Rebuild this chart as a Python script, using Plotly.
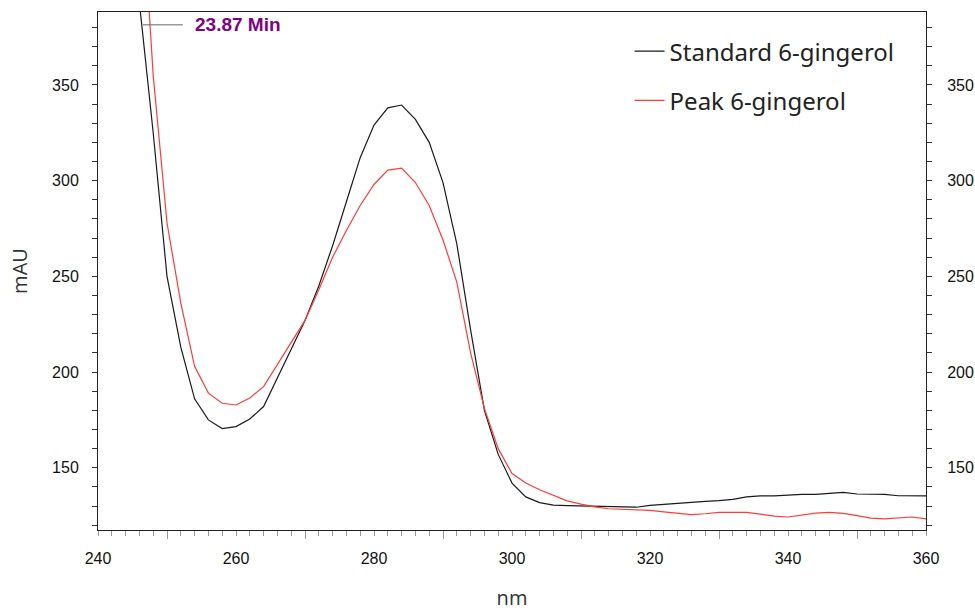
import plotly.graph_objects as go

# Wavelength (nm), sampled every 2 nm
wavelength = list(range(244, 361, 2))

standard_6_gingerol = [
    480, 393, 325, 250, 213, 186, 175, 170.5, 171.5, 175.5,
    182, 197, 212, 227, 245, 266, 289, 312, 329, 338,
    339.5, 332, 320, 299, 267, 222, 180, 157, 142, 134.8,
    131.8, 130.5, 130.2, 130, 129.8, 129.5, 129.4, 129.4, 130.4, 130.9,
    131.7, 132.1, 132.5, 132.8, 133.5, 134.8, 135.3, 135.3, 135.7, 136.1,
    136.1, 136.7, 137.2, 136.3, 136.1, 136.1, 135.4, 135.3, 135.3,
]

peak_6_gingerol = [
    560, 470, 355, 278, 236, 203, 189, 183.7, 182.8, 186.5,
    192.4, 204, 215, 227, 243, 260, 274, 287, 298, 305.5,
    306.5, 299, 287, 269, 247, 210, 181, 160, 147, 142,
    138.5, 135.7, 132.7, 131, 129.6, 128.6, 128.3, 128, 127.8, 127,
    126.2, 125.5, 126, 126.7, 126.7, 126.7, 125.8, 124.8, 124.3, 125.3,
    126.3, 126.7, 126.2, 125, 123.7, 123.3, 123.8, 124.3, 123.3,
]

series_names = ["Standard 6-gingerol", "Peak 6-gingerol"]
x_tick_vals = [240, 260, 280, 300, 320, 340, 360]
x_mid_ticks = [250, 270, 290, 310, 330, 350]
y_tick_vals = [150, 200, 250, 300, 350]
annotation_text = "23.87 Min"
annotation_line_x = [246.5, 252.3]
annotation_y = 381.4
annotation_text_x = 254.2

x_range = [240, 360]
y_range = [117.5, 388.1]

tick_font = dict(family="Arial, Liberation Sans, sans-serif", size=16, color="#111")
title_font = dict(family="Open Sans, Noto Sans, sans-serif", size=20, color="#333")

fig = go.Figure()
fig.add_trace(go.Scatter(
    x=wavelength, y=standard_6_gingerol, mode="lines", name=series_names[0],
    line=dict(color="#1a1a1a", width=1.2), legendgroup="a",
))
fig.add_trace(go.Scatter(
    x=wavelength, y=peak_6_gingerol, mode="lines", name=series_names[1],
    line=dict(color="#ff3b3b", width=1.2), legendgroup="b",
))
# invisible helper traces so the secondary axes render
fig.add_trace(go.Scatter(x=[x_range[0]], y=[y_range[0]], yaxis="y2", mode="markers",
                         marker=dict(opacity=0), showlegend=False, hoverinfo="skip"))
fig.add_trace(go.Scatter(x=[x_range[0]], y=[y_range[0]], xaxis="x2", mode="markers",
                         marker=dict(opacity=0), showlegend=False, hoverinfo="skip"))

# annotation marker line
fig.add_shape(type="line", x0=annotation_line_x[0], x1=annotation_line_x[1],
              y0=annotation_y, y1=annotation_y, xref="x", yref="y",
              line=dict(color="#666", width=1))
fig.add_annotation(x=annotation_text_x, y=annotation_y, xref="x", yref="y",
                   text="<b>" + annotation_text + "</b>", showarrow=False,
                   xanchor="left", yanchor="middle", xshift=-3,
                   font=dict(family="Arial, Liberation Sans, sans-serif", size=19, color="#800080"))

fig.update_layout(
    width=975, height=611,
    margin=dict(l=98, r=49, t=12, b=81, autoexpand=False),
    paper_bgcolor="white", plot_bgcolor="white",
    showlegend=True,
    legend=dict(
        x=0.642, y=0.967, xanchor="left", yanchor="top",
        font=dict(family="Noto Sans, sans-serif", size=24, color="#222"),
        bgcolor="rgba(0,0,0,0)", traceorder="grouped", tracegroupgap=15,
    ),
    xaxis=dict(
        range=x_range, tickvals=x_tick_vals, ticks="", showgrid=False, zeroline=False,
        showline=True, linecolor="#222", linewidth=1, mirror=True, automargin=False,
        tickfont=tick_font, ticklabelstandoff=14,
        minor=dict(dtick=2, ticks="outside", ticklen=5, tickcolor="#999", showgrid=False),
        title=dict(text="nm", font=title_font, standoff=24),
    ),
    xaxis2=dict(
        range=x_range, overlaying="x", side="bottom", anchor="y", automargin=False,
        tickvals=x_mid_ticks, ticks="outside", ticklen=8, tickcolor="#999",
        showticklabels=False, showgrid=False, zeroline=False, showline=False,
    ),
    yaxis=dict(
        range=y_range, tickvals=y_tick_vals, ticks="outside", ticklen=5, tickcolor="#333",
        showgrid=False, zeroline=False, showline=True, linecolor="#222", linewidth=1,
        tickfont=tick_font, ticklabelstandoff=10, automargin=False,
        minor=dict(dtick=10, tick0=0, ticks="outside", ticklen=5, tickcolor="#333", showgrid=False),
        title=dict(text="mAU", font=title_font, standoff=19),
    ),
    yaxis2=dict(
        range=y_range, overlaying="y", side="right", anchor="x", automargin=False,
        tickvals=y_tick_vals, ticks="outside", ticklen=5, tickcolor="#333",
        showgrid=False, zeroline=False, showline=True, linecolor="#222", linewidth=1,
        tickfont=tick_font, ticklabelstandoff=12,
        minor=dict(dtick=10, tick0=0, ticks="outside", ticklen=5, tickcolor="#333", showgrid=False),
    ),
)

fig.write_html("out.html", config={"displayModeBar": False},
               post_script="document.body.style.margin='0';document.body.style.overflow='hidden';")
